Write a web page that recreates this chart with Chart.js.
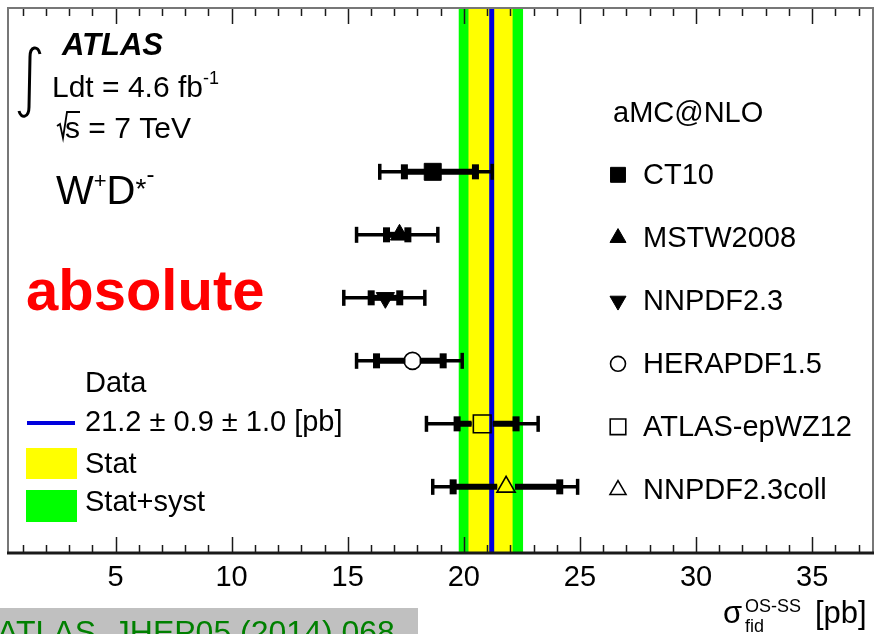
<!DOCTYPE html>
<html>
<head>
<meta charset="utf-8">
<script src="https://cdn.jsdelivr.net/npm/chart.js@4.4.0/dist/chart.umd.min.js"></script>
<style>
  html, body { margin: 0; padding: 0; background: #fff; }
  canvas { display: block; }
</style>
</head>
<body>
<canvas id="xsecChart" width="875" height="634"></canvas>
<script>
// predictions (aMC@NLO with various PDFs), sigma_fid^{OS-SS} in pb
const pdfSets = ['CT10', 'MSTW2008', 'NNPDF2.3', 'HERAPDF1.5', 'ATLAS-epWZ12', 'NNPDF2.3coll'];
const central = [18.66, 17.23, 16.62, 17.79, 20.79, 21.82];
const innerLow = [17.44, 16.67, 16.01, 16.24, 19.71, 19.54];
const innerHigh = [20.50, 17.59, 17.24, 19.11, 22.25, 24.13];
const outerLow = [16.38, 15.38, 14.83, 15.38, 18.39, 18.66];
const outerHigh = [21.22, 18.88, 18.32, 19.93, 23.20, 24.90];

// measurement
const dataValue = 21.2;
const statBand = [20.2, 22.1];
const totalBand = [19.78, 22.55];

const xTickLabels = [5, 10, 15, 20, 25, 30, 35];

// marker looks
const markerStyle = ['rect', 'triangle', 'triangle', 'circle', 'rect', 'triangle'];
const markerRotation = [0, 0, 180, 0, 0, 0];
const markerRadius = [12, 10.5, 10.5, 8.5, 12.5, 10.5];
const markerOpen = [false, false, false, true, true, true];

const FONT = '"Liberation Sans", Arial, Helvetica, sans-serif';

function font(size, extra) {
    return (extra ? extra + ' ' : '') + size + 'px ' + FONT;
}

// draw a run of text pieces: [text, size, dy, style]
function drawPieces(ctx, x, y, pieces) {
    pieces.forEach(([txt, size, dy, style]) => {
        ctx.font = font(size, style);
        ctx.fillText(txt, x, y + dy);
        x += ctx.measureText(txt).width;
    });
    return x;
}

const overlay = {
    id: 'overlay',
    beforeDatasetsDraw(chart) {
        const { ctx, chartArea: a, scales: { x, y } } = chart;
        ctx.save();
        // bands
        const g0 = x.getPixelForValue(totalBand[0]), g1 = x.getPixelForValue(totalBand[1]);
        ctx.fillStyle = '#00ff00';
        ctx.fillRect(g0, a.top, g1 - g0, a.bottom - a.top);
        const s0 = x.getPixelForValue(statBand[0]), s1 = x.getPixelForValue(statBand[1]);
        ctx.fillStyle = '#ffff00';
        ctx.fillRect(s0, a.top, s1 - s0, a.bottom - a.top);
        const xd = x.getPixelForValue(dataValue);
        ctx.strokeStyle = '#0000dd';
        ctx.lineWidth = 5;
        ctx.beginPath();
        ctx.moveTo(xd, a.top);
        ctx.lineTo(xd, a.bottom);
        ctx.stroke();

        // error bars
        ctx.strokeStyle = '#000';
        ctx.fillStyle = '#000';
        pdfSets.forEach((name, i) => {
            const yy = y.getPixelForValue(i);
            const xc = x.getPixelForValue(central[i]);
            const gap = markerOpen[i] ? markerRadius[i] * 0.85 : 0;
            const seg = (v1, v2, w) => {
                const p1 = x.getPixelForValue(v1), p2 = x.getPixelForValue(v2);
                ctx.lineWidth = w;
                ctx.beginPath();
                if (gap) {
                    ctx.moveTo(p1, yy); ctx.lineTo(Math.min(p2, xc - gap), yy);
                    ctx.moveTo(Math.max(p1, xc + gap), yy); ctx.lineTo(p2, yy);
                } else {
                    ctx.moveTo(p1, yy); ctx.lineTo(p2, yy);
                }
                ctx.stroke();
            };
            seg(outerLow[i], outerHigh[i], 3.5);
            seg(innerLow[i], innerHigh[i], 6);
            // outer caps
            ctx.lineWidth = 3.5;
            [outerLow[i], outerHigh[i]].forEach(v => {
                const p = x.getPixelForValue(v);
                ctx.beginPath();
                ctx.moveTo(p, yy - 8);
                ctx.lineTo(p, yy + 8);
                ctx.stroke();
            });
            // inner caps
            [innerLow[i], innerHigh[i]].forEach(v => {
                const p = x.getPixelForValue(v);
                ctx.fillRect(p - 3.5, yy - 7.5, 7, 15);
            });
        });
        ctx.restore();
    },
    afterDraw(chart) {
        const { ctx, chartArea: a, scales: { x, y } } = chart;
        ctx.save();

        // ticks inside frame
        ctx.strokeStyle = '#1a1a1a';
        ctx.lineWidth = 1.5;
        for (let v = 1; v <= 37; v++) {
            const p = Math.round(x.getPixelForValue(v)) + 0.5;
            const len = v % 5 === 0 ? 16 : 8;
            ctx.beginPath();
            ctx.moveTo(p, a.bottom); ctx.lineTo(p, a.bottom - len);
            ctx.moveTo(p, a.top); ctx.lineTo(p, a.top + len);
            ctx.stroke();
        }

        // frame
        ctx.strokeStyle = '#777';
        ctx.lineWidth = 2;
        ctx.beginPath();
        ctx.moveTo(a.left, a.bottom);
        ctx.lineTo(a.left, a.top);
        ctx.lineTo(a.right, a.top);
        ctx.lineTo(a.right, a.bottom);
        ctx.stroke();
        ctx.strokeStyle = '#1a1a1a';
        ctx.lineWidth = 3;
        ctx.beginPath();
        ctx.moveTo(a.left - 1, a.bottom);
        ctx.lineTo(a.right + 1, a.bottom);
        ctx.stroke();

        // legend of predictions on the right
        ctx.fillStyle = '#000';
        ctx.textBaseline = 'middle';
        ctx.font = font(29);
        ctx.fillText('aMC@NLO', 613, y.getPixelForValue(-1) + 5);
        pdfSets.forEach((name, i) => {
            const yy = y.getPixelForValue(i) + 3;
            ctx.fillStyle = markerOpen[i] ? 'rgba(0,0,0,0)' : '#000';
            ctx.strokeStyle = '#000';
            ctx.lineWidth = markerOpen[i] ? 1.6 : 1;
            Chart.helpers.drawPoint(ctx, {
                pointStyle: markerStyle[i],
                rotation: markerRotation[i],
                radius: markerRadius[i] * 0.88,
                borderWidth: markerOpen[i] ? 1.6 : 1
            }, 618, yy);
            ctx.fillStyle = '#000';
            ctx.font = font(29);
            ctx.fillText(name, 643, yy + 1);
        });

        // ATLAS label block
        ctx.textBaseline = 'alphabetic';
        ctx.fillStyle = '#000';
        ctx.font = font(31, 'italic bold');
        ctx.fillText('ATLAS', 62, 55);
        drawPieces(ctx, 52, 97, [['Ldt = 4.6 fb', 30, 0], ['-1', 18, -13]]);
        // integral sign
        ctx.strokeStyle = '#000';
        ctx.lineWidth = 3;
        ctx.beginPath();
        ctx.moveTo(40, 54);
        ctx.bezierCurveTo(38, 45, 30, 46, 30, 57);
        ctx.lineTo(29, 107);
        ctx.bezierCurveTo(29, 118, 21, 119, 19, 111);
        ctx.stroke();
        // sqrt(s)
        ctx.lineWidth = 1.8;
        ctx.beginPath();
        ctx.moveTo(57, 126);
        ctx.lineTo(60, 124);
        ctx.lineTo(63, 138);
        ctx.lineTo(67, 112);
        ctx.lineTo(80, 112);
        ctx.stroke();
        ctx.font = font(30);
        ctx.fillText('s = 7 TeV', 65, 138);

        // W+D*-
        drawPieces(ctx, 56, 204, [
            ['W', 40, 0], ['+', 22, -16], ['D', 40, 0], ['*', 28, -6], ['-', 24, -22]
        ]);

        // absolute
        ctx.fillStyle = '#ff0000';
        ctx.font = font(58, 'bold');
        ctx.fillText('absolute', 26, 310);

        // data legend
        ctx.fillStyle = '#000';
        ctx.textBaseline = 'middle';
        ctx.font = font(29);
        ctx.fillText('Data', 85, 384);
        ctx.fillText('21.2 \u00b1 0.9 \u00b1 1.0 [pb]', 85, 423);
        ctx.fillText('Stat', 85, 465);
        ctx.fillText('Stat+syst', 85, 503);
        ctx.strokeStyle = '#0000dd';
        ctx.lineWidth = 4;
        ctx.beginPath();
        ctx.moveTo(27, 423); ctx.lineTo(75, 423);
        ctx.stroke();
        ctx.fillStyle = '#ffff00';
        ctx.fillRect(26, 448, 51, 31);
        ctx.fillStyle = '#00ff00';
        ctx.fillRect(26, 490, 51, 32);

        // axis title
        ctx.fillStyle = '#000';
        ctx.textBaseline = 'alphabetic';
        ctx.font = font(31);
        ctx.fillText('\u03c3', 723, 623);
        ctx.font = font(18);
        ctx.fillText('OS-SS', 745, 612);
        ctx.fillText('fid', 745, 632);
        ctx.font = font(31);
        ctx.fillText('[pb]', 815, 623);

        // reference tag
        ctx.fillStyle = '#c0c0c0';
        ctx.fillRect(0, 608, 418, 26);
        ctx.fillStyle = '#008000';
        ctx.font = font(32);
        ctx.fillText('ATLAS, JHEP05 (2014) 068', -3, 643);

        ctx.restore();
    }
};

const ctx = document.getElementById('xsecChart').getContext('2d');

new Chart(ctx, {
    type: 'scatter',
    data: {
        datasets: [{
            data: central.map((v, i) => ({ x: v, y: i })),
            pointStyle: markerStyle,
            rotation: markerRotation,
            radius: markerRadius,
            backgroundColor: markerOpen.map(o => o ? 'rgba(0,0,0,0)' : '#000'),
            borderColor: '#000',
            borderWidth: markerOpen.map(o => o ? 1.6 : 1)
        }]
    },
    options: {
        responsive: false,
        animation: false,
        events: [],
        layout: { autoPadding: false, padding: { left: 8, right: 2, top: 8, bottom: 0 } },
        plugins: { legend: { display: false }, tooltip: { enabled: false } },
        scales: {
            x: {
                type: 'linear',
                min: 0.37,
                max: 37.62,
                grid: { display: false, drawTicks: false },
                border: { display: false },
                afterBuildTicks: scale => { scale.ticks = xTickLabels.map(v => ({ value: v })); },
                afterFit: scale => { scale.height = 81; },
                ticks: {
                    autoSkip: false,
                    maxRotation: 0,
                    padding: 8,
                    color: '#000',
                    font: { family: FONT, size: 29 }
                }
            },
            y: {
                type: 'linear',
                display: false,
                reverse: true,
                min: -2.6,
                max: 6.05
            }
        }
    },
    plugins: [overlay]
});
</script>
</body>
</html>
